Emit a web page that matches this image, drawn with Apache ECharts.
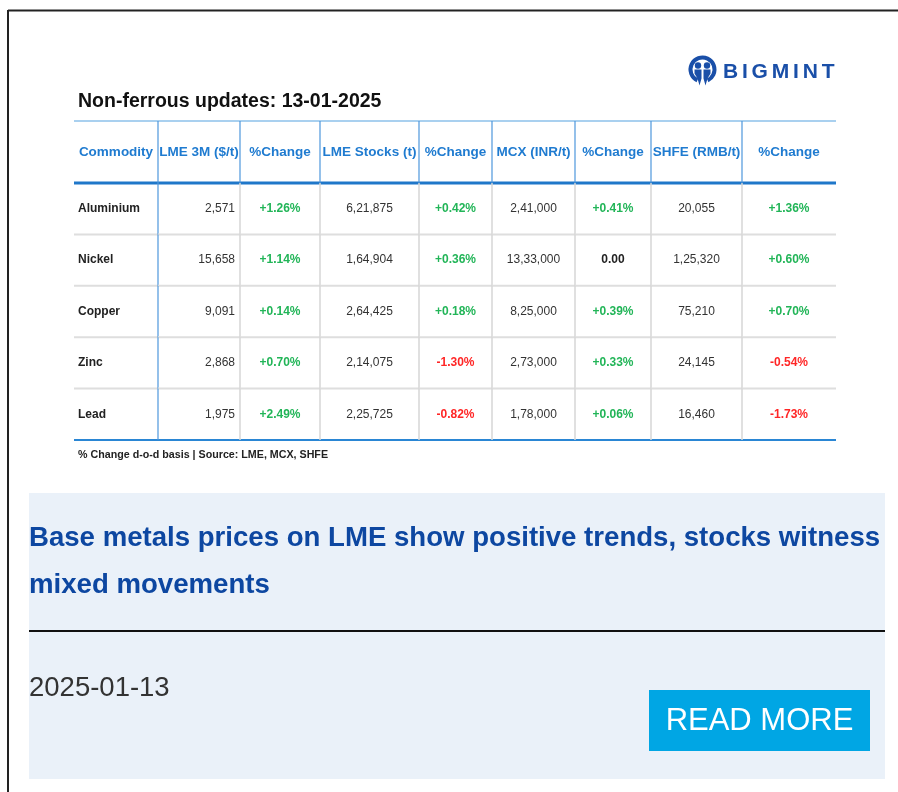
<!DOCTYPE html>
<html>
<head>
<meta charset="utf-8">
<title>Non-ferrous updates</title>
<script src="https://cdn.jsdelivr.net/npm/echarts@6/dist/echarts.min.js"></script>
<style>
  html, body { margin: 0; padding: 0; background: #fff; }
  #main { width: 898px; height: 792px; }
</style>
</head>
<body>
<div id="main"></div>
<script>
// table data
var commodities = ['Aluminium', 'Nickel', 'Copper', 'Zinc', 'Lead'];
var headers = ['Commodity', 'LME 3M ($/t)', '%Change', 'LME Stocks (t)', '%Change',
               'MCX (INR/t)', '%Change', 'SHFE (RMB/t)', '%Change'];
var lme3m = [2571, 15658, 9091, 2868, 1975];
var lme3mChg = [1.26, 1.14, 0.14, 0.70, 2.49];
var lmeStocks = [621875, 164904, 264425, 214075, 225725];
var lmeStocksChg = [0.42, 0.36, 0.18, -1.30, -0.82];
var mcx = [241000, 1333000, 825000, 273000, 178000];
var mcxChg = [0.41, 0.00, 0.39, 0.33, 0.06];
var shfe = [20055, 125320, 75210, 24145, 16460];
var shfeChg = [1.36, 0.60, 0.70, -0.54, -1.73];

var titleText = 'Non-ferrous updates: 13-01-2025';
var noteText = '% Change d-o-d basis | Source: LME, MCX, SHFE';
var headline = ['Base metals prices on LME show positive trends, stocks witness', 'mixed movements'];
var dateText = '2025-01-13';
var logoText = 'BIGMINT';

// layout (pixels)
var colWidths = [84, 82, 80, 99, 73, 83, 76, 91, 94];
var tableLeft = 74, tableTop = 121, headerH = 62, bodyTop = 183, bodyBottom = 440;

var FONT = '"Liberation Sans", Arial, sans-serif';
var GREEN = '#22b558', RED = '#ff2626', TXT = '#333', BLUE = '#1f7bd0', LOGO = '#1a4fa8';

function fmtUS(v) {
  return String(v).replace(/\B(?=(\d{3})+(?!\d))/g, ',');
}
function fmtIN(v) {
  var s = String(v);
  if (s.length <= 3) return s;
  var last = s.slice(-3), rest = s.slice(0, -3);
  rest = rest.replace(/\B(?=(\d{2})+(?!\d))/g, ',');
  return rest + ',' + last;
}
function fmtChg(v) {
  if (v > 0) return '+' + v.toFixed(2) + '%';
  if (v < 0) return v.toFixed(2) + '%';
  return '0.00';
}
function chgColor(v) {
  return v > 0 ? GREEN : (v < 0 ? RED : '#222');
}

var colEdges = [0];
colWidths.forEach(function (w, i) { colEdges.push(colEdges[i] + w); });
var tableWidth = colEdges[colEdges.length - 1];

// one item per cell: [colStart, row, colIndex, text, color]
var cells = [];
commodities.forEach(function (name, r) {
  var row = [
    [name, '#222'],
    [fmtUS(lme3m[r]), TXT],
    [fmtChg(lme3mChg[r]), chgColor(lme3mChg[r])],
    [fmtIN(lmeStocks[r]), TXT],
    [fmtChg(lmeStocksChg[r]), chgColor(lmeStocksChg[r])],
    [fmtIN(mcx[r]), TXT],
    [fmtChg(mcxChg[r]), chgColor(mcxChg[r])],
    [fmtIN(shfe[r]), TXT],
    [fmtChg(shfeChg[r]), chgColor(shfeChg[r])]
  ];
  row.forEach(function (c, ci) {
    cells.push([colEdges[ci], r, ci, c[0], c[1]]);
  });
});
var headCells = headers.map(function (h, ci) {
  return [colEdges[ci], 0, ci, h, BLUE];
});

function renderCell(params, api) {
  var isHead = params.seriesIndex === 0;
  var item = isHead ? headCells[params.dataIndex] : cells[params.dataIndex];
  var ci = item[2], row = item[1];
  var p0 = api.coord([colEdges[ci], row]);
  var p1 = api.coord([colEdges[ci + 1], row]);
  var rowH = api.size([0, 1])[1];
  var x0 = p0[0], x1 = p1[0], yc = p0[1];
  var top = yc - rowH / 2, bottom = yc + rowH / 2;
  var x, align;
  if (isHead) { x = (x0 + x1) / 2; align = 'center'; }
  else if (ci === 0) { x = x0 + 4; align = 'left'; }
  else if (ci === 1) { x = x1 - 5; align = 'right'; }
  else { x = (x0 + x1) / 2; align = 'center'; }
  var bold = ci === 0 || ci % 2 === 0;
  var font = isHead ? 'bold 13.5px ' : (bold ? 'bold 12px ' : '12px ');
  var children = [{
    type: 'text',
    style: {
      x: x, y: yc, text: item[3], align: align, verticalAlign: 'middle',
      fill: item[4], font: font + FONT
    }
  }];
  if (ci > 0) {
    var blue = isHead || ci === 1;
    children.push({
      type: 'line',
      shape: { x1: x0, y1: top, x2: x0, y2: bottom },
      style: { stroke: blue ? '#4d97dc' : '#d6d6d6', lineWidth: blue ? 1.2 : 1.5 }
    });
  }
  if (!isHead && row < commodities.length - 1) {
    children.push({
      type: 'line',
      shape: { x1: x0, y1: bottom, x2: x1, y2: bottom },
      style: { stroke: '#dedede', lineWidth: 2 }
    });
  }
  return { type: 'group', children: children };
}

// logo letters spaced out one by one
var measureCtx = document.createElement('canvas').getContext('2d');
var logoFont = 'bold 21px ' + FONT;
measureCtx.font = logoFont;
var logoLetters = [];
var lx = 723;
logoText.split('').forEach(function (ch) {
  logoLetters.push({ type: 'text', x: lx, y: 72, style: { text: ch, font: logoFont, fill: LOGO, verticalAlign: 'middle' } });
  lx += measureCtx.measureText(ch).width + 3.8;
});

var option = {
  backgroundColor: '#fff',
  animation: false,
  grid: [
    { left: tableLeft, top: tableTop, width: tableWidth, height: headerH },
    { left: tableLeft, top: bodyTop, width: tableWidth, height: bodyBottom - bodyTop }
  ],
  xAxis: [
    { gridIndex: 0, type: 'value', min: 0, max: tableWidth, show: false },
    { gridIndex: 1, type: 'value', min: 0, max: tableWidth, show: false }
  ],
  yAxis: [
    { gridIndex: 0, type: 'category', data: ['header'], inverse: true, show: false },
    { gridIndex: 1, type: 'category', data: commodities, inverse: true, show: false }
  ],
  series: [
    {
      type: 'custom', xAxisIndex: 0, yAxisIndex: 0,
      data: headCells, renderItem: renderCell, silent: true,
      encode: { x: 0, y: 1 }
    },
    {
      type: 'custom', xAxisIndex: 1, yAxisIndex: 1,
      data: cells, renderItem: renderCell, silent: true,
      encode: { x: 0, y: 1 }
    }
  ],
  graphic: [
    // page frame
    { type: 'line', shape: { x1: 8, y1: 10.5, x2: 898, y2: 10.5 }, style: { stroke: '#222', lineWidth: 2 } },
    { type: 'line', shape: { x1: 8, y1: 10, x2: 8, y2: 792 }, style: { stroke: '#222', lineWidth: 2 } },
    // title
    { type: 'text', left: 78, top: 92, style: { text: titleText, font: 'bold 19.5px ' + FONT, fill: '#111' } },
    // logo
    {
      type: 'group', left: 688, top: 55,
      children: [
        { type: 'arc', shape: { cx: 14, cy: 14, r: 12, startAngle: Math.PI * 0.64, endAngle: Math.PI * 2.36 }, style: { stroke: LOGO, lineWidth: 4, fill: null } },
        { type: 'circle', shape: { cx: 9.5, cy: 10, r: 3.2 }, style: { fill: LOGO } },
        { type: 'circle', shape: { cx: 18.5, cy: 10, r: 3.2 }, style: { fill: LOGO } },
        { type: 'polygon', shape: { points: [[6, 14], [13, 14], [13, 23], [11, 30], [9, 23], [6, 18]] }, style: { fill: LOGO } },
        { type: 'polygon', shape: { points: [[15, 14], [22, 14], [22, 18], [19, 23], [17, 30], [15, 23]] }, style: { fill: LOGO } }
      ]
    },
    { type: 'group', children: logoLetters },
    // table frame lines
    { type: 'line', shape: { x1: tableLeft, y1: tableTop, x2: tableLeft + tableWidth, y2: tableTop }, style: { stroke: '#8cc0ea', lineWidth: 1.5 } },
    { type: 'line', shape: { x1: tableLeft, y1: bodyTop, x2: tableLeft + tableWidth, y2: bodyTop }, style: { stroke: '#1f77c9', lineWidth: 3 } },
    { type: 'line', shape: { x1: tableLeft, y1: bodyBottom, x2: tableLeft + tableWidth, y2: bodyBottom }, style: { stroke: '#2a86d4', lineWidth: 2 } },
    // note
    { type: 'text', left: 78, top: 450, style: { text: noteText, font: 'bold 10.7px ' + FONT, fill: '#222' } },
    // lower panel
    { type: 'rect', shape: { x: 29, y: 493, width: 856, height: 286 }, style: { fill: '#eaf1f9' } },
    { type: 'text', x: 29, y: 538, style: { text: headline[0], font: 'bold 27.6px ' + FONT, fill: '#0d47a1', verticalAlign: 'middle' } },
    { type: 'text', x: 29, y: 585, style: { text: headline[1], font: 'bold 27.6px ' + FONT, fill: '#0d47a1', verticalAlign: 'middle' } },
    { type: 'line', shape: { x1: 29, y1: 631, x2: 885, y2: 631 }, style: { stroke: '#111', lineWidth: 2 } },
    { type: 'text', x: 29, y: 688, style: { text: dateText, font: '27.5px ' + FONT, fill: '#333', verticalAlign: 'middle' } },
    { type: 'rect', shape: { x: 649, y: 690, width: 221, height: 61 }, style: { fill: '#00a6e4' } },
    { type: 'text', x: 759.5, y: 721, style: { text: 'READ MORE', font: '31px ' + FONT, fill: '#fff', align: 'center', verticalAlign: 'middle' } }
  ]
};

var chart = echarts.init(document.getElementById('main'));
chart.setOption(option);
</script>
</body>
</html>
